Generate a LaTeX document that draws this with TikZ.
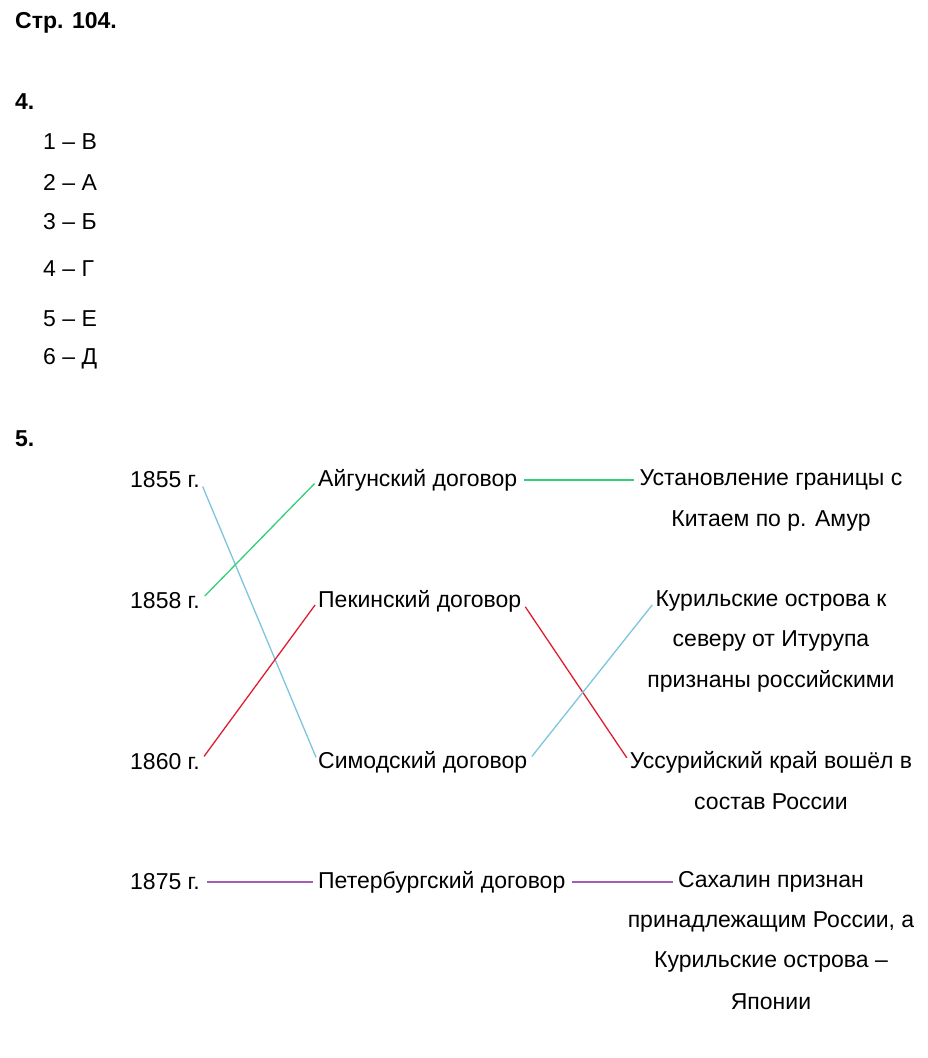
\documentclass[tikz,border=0pt]{standalone}
\usepackage{fontspec}
\setmainfont{Liberation Sans}
\usetikzlibrary{positioning}
\definecolor{lnkgreen}{RGB}{52,206,120}
\definecolor{lnkblue}{RGB}{126,196,222}
\definecolor{lnkred}{RGB}{222,30,48}
\definecolor{lnkpurple}{RGB}{164,92,184}

\begin{document}
\begin{tikzpicture}[x=1pt,y=-1pt,
    every node/.style={font=\fontsize{23}{27}\selectfont,inner sep=0pt},
    head/.style={anchor=west,font=\fontsize{23}{27}\selectfont\bfseries},
    item/.style={anchor=west},
    res/.style={anchor=center},
    link/.style={line width=1.3pt,shorten <=7pt,shorten >=5pt}]
  \useasboundingbox (0,0) rectangle (928,1058);

  \node[head] (page) at (15,23) {Стр. 104.};
  \node[head] (ex4)  at (15,102) {4.};
  \node[item] (a1) at (43,142) {1 – В};
  \node[item] (a2) at (43,182) {2 – А};
  \node[item] (a3) at (43,222) {3 – Б};
  \node[item] (a4) at (43,269) {4 – Г};
  \node[item] (a5) at (43,319) {5 – Е};
  \node[item] (a6) at (43,359) {6 – Д};
  \node[head] (ex5)  at (15,439) {5.};

  % years
  \node[item] (y1855) at (130,480) {1855 г.};
  \node[item] (y1858) at (130,601) {1858 г.};
  \node[item] (y1860) at (130,762) {1860 г.};
  \node[item] (y1875) at (130,882) {1875 г.};

  % treaties
  \node[item] (aig) at (318,480) {Айгунский договор};
  \node[item] (pek) at (318,601) {Пекинский договор};
  \node[item] (sim) at (318,762) {Симодский договор};
  \node[item] (pet) at (318,882) {Петербургский договор};

  % results
  \node[res] (amur)  at (771,480) {Установление границы с};
  \node[res] (amur2) at (771,521) {Китаем по р. Амур};
  \node[res] (kur)   at (771,601) {Курильские острова к};
  \node[res] (kur2)  at (771,641) {северу от Итурупа};
  \node[res] (kur3)  at (771,681) {признаны российскими};
  \node[res] (uss)   at (771,762) {Уссурийский край вошёл в};
  \node[res] (uss2)  at (771,802) {состав России};
  \node[res] (sah)   at (771,882) {Сахалин признан};
  \node[res] (sah2)  at (771,922) {принадлежащим России, а};
  \node[res] (sah3)  at (771,962) {Курильские острова –};
  \node[res] (sah4)  at (771,1002) {Японии};

  \draw[link,lnkblue]   (y1855.east) -- (sim.west);
  \draw[link,lnkgreen]  (y1858.east) -- (aig.west);
  \draw[link,lnkred]    (y1860.east) -- (pek.west);
  \draw[link,lnkpurple] (y1875.east) -- (pet.west);

  \draw[link,lnkgreen]  (aig.east) -- (amur.west);
  \draw[link,lnkred]    (pek.east) -- (uss.west);
  \draw[link,lnkblue]   (sim.east) -- (kur.west);
  \draw[link,lnkpurple] (pet.east) -- (sah.west);
\end{tikzpicture}
\end{document}
